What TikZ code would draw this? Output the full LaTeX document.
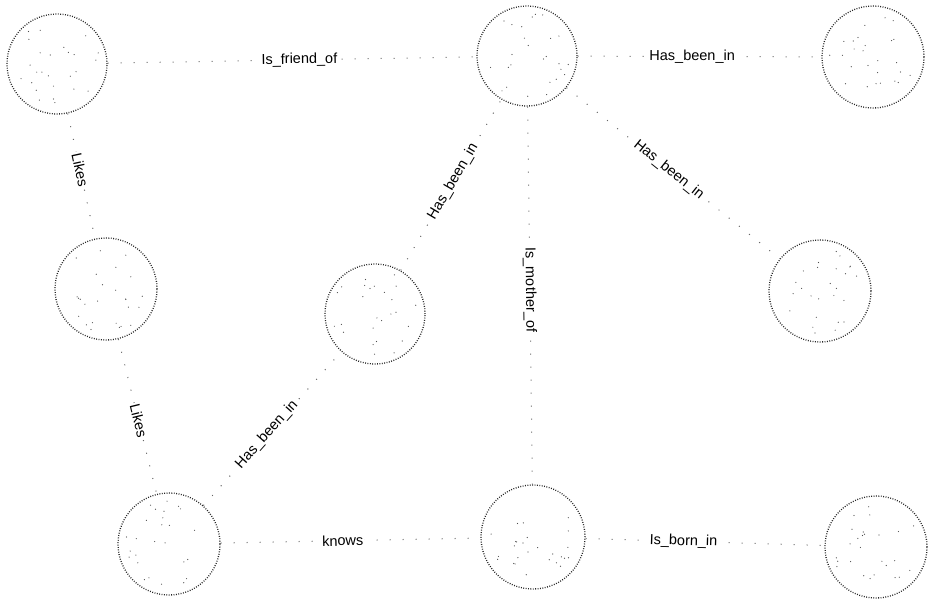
\documentclass[tikz,border=0pt]{standalone}
\usepackage{fontspec}
\setmainfont{Liberation Sans}
\usetikzlibrary{calc}
\begin{document}
\begin{tikzpicture}[x=1pt,y=-1pt,
  ent/.style={circle,minimum size=100pt,inner sep=0pt,draw=black!85,line width=1.3pt,dash pattern=on 0.9pt off 1.5pt},
  rel/.style={draw=black!60,line width=1pt,dash pattern=on 1pt off 12pt},
  lbl/.style={font=\fontsize{14.5}{16}\selectfont,fill=white,inner sep=1.5pt,sloped}
]
\useasboundingbox (0,0) rectangle (930,598);
\node[ent] (A) at (57,64) {};
\node[ent] (B) at (527,56) {};
\node[ent,minimum size=102pt] (C) at (873,57) {};
\node[ent,minimum size=102pt] (D) at (106,289) {};
\node[ent] (E) at (375,314) {};
\node[ent,minimum size=102pt] (F) at (820,291) {};
\node[ent,minimum size=102pt] (G) at (169,544) {};
\node[ent,minimum size=104pt] (H) at (533,537) {};
\node[ent,minimum size=102pt] (I) at (876,547) {};
\pgfmathsetseed{7}
\foreach \n/\cx/\cy in {A/57/64,B/527/56,C/873/57,D/106/289,E/375/314,F/820/291,G/169/544,H/533/537,I/876/547}{
  \foreach \k in {1,...,26}{
    \pgfmathsetmacro{\ang}{360*rnd}
    \pgfmathsetmacro{\rad}{44*sqrt(rnd)}
    \fill[black!70] ($(\cx,\cy)+(\ang:\rad)$) circle (0.6pt);
  }
}
\draw[rel] (A) -- node[lbl,pos=0.52] (lab1) {Is\_friend\_of} (B);
\draw[rel] (B) -- node[lbl,pos=0.47] (lab2) {Has\_been\_in} (C);
\draw[rel] (A) -- node[lbl,pos=0.45] (lab3) {Likes} (D);
\draw[rel] (D) -- node[lbl,pos=0.53] (lab4) {Likes} (G);
\draw[rel] (G) -- node[lbl,pos=0.46] (lab5) {Has\_been\_in} (E);
\draw[rel] (E) -- node[lbl,pos=0.52] (lab6) {Has\_been\_in} (B);
\draw[rel] (B) -- node[lbl,pos=0.48] (lab7) {Has\_been\_in} (F);
\draw[rel] (B) -- node[lbl,pos=0.485] (lab8) {Is\_mother\_of} (H);
\draw[rel] (G) -- node[lbl,pos=0.47] (lab9) {knows} (H);
\draw[rel] (H) -- node[lbl,pos=0.41] (lab10) {Is\_born\_in} (I);
\end{tikzpicture}
\end{document}
